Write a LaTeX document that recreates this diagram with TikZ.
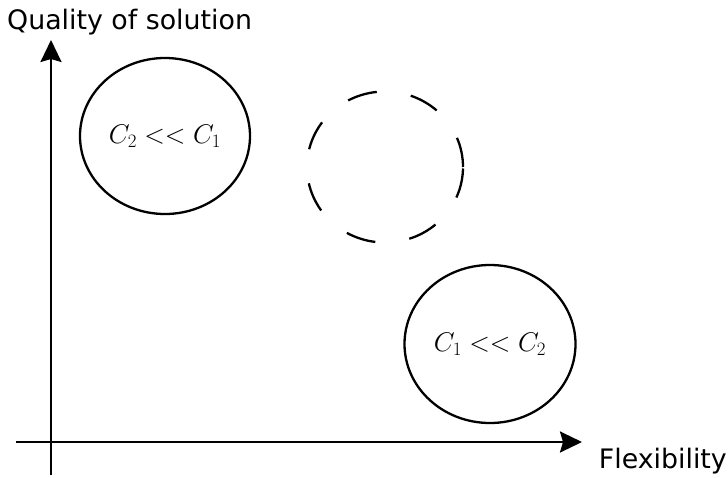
\documentclass[tikz,border=0pt]{standalone}
\usepackage{fix-cm}
\usepackage[no-math]{fontspec}
\newfontfamily\labelfont{DejaVu Sans}
\usetikzlibrary{arrows.meta,shapes.geometric}

\begin{document}
\begin{tikzpicture}[x=1pt,y=-1pt,
        axis/.style={line width=2.3pt,-{Stealth[length=22pt,width=21pt,inset=3pt]}},
        blob/.style={draw,ellipse,line width=2.3pt,inner sep=0pt,
            font=\fontsize{27}{32}\selectfont},
        axislabel/.style={inner sep=0pt,font=\labelfont\fontsize{26.8}{30}\selectfont}]
        \useasboundingbox (0,0) rectangle (728,477);

        % Axes
        \coordinate (ybot) at (51,475);
        \coordinate (ytop) at (51,40);
        \coordinate (xleft) at (16,442);
        \coordinate (xright) at (582,442);
        \draw[axis] (ybot) -- (ytop);
        \draw[axis] (xleft) -- (xright);
        \node[axislabel,anchor=base west] (quality) at (7,29) {Quality of solution};
        \node[axislabel,anchor=base east] (flex) at (727,468) {Flexibility};

        % Regions
        \node[blob,minimum width=170pt,minimum height=156pt] (high) at (165,136) {$C_2 << C_1$};
        \node[blob,dash pattern=on 30pt off 34.4pt,minimum width=156pt,minimum height=151pt] (mid) at (385,167) {};
        \node[blob,minimum width=171pt,minimum height=158pt] (low) at (490,344) {$C_1 << C_2$};
    \end{tikzpicture}
\end{document}
